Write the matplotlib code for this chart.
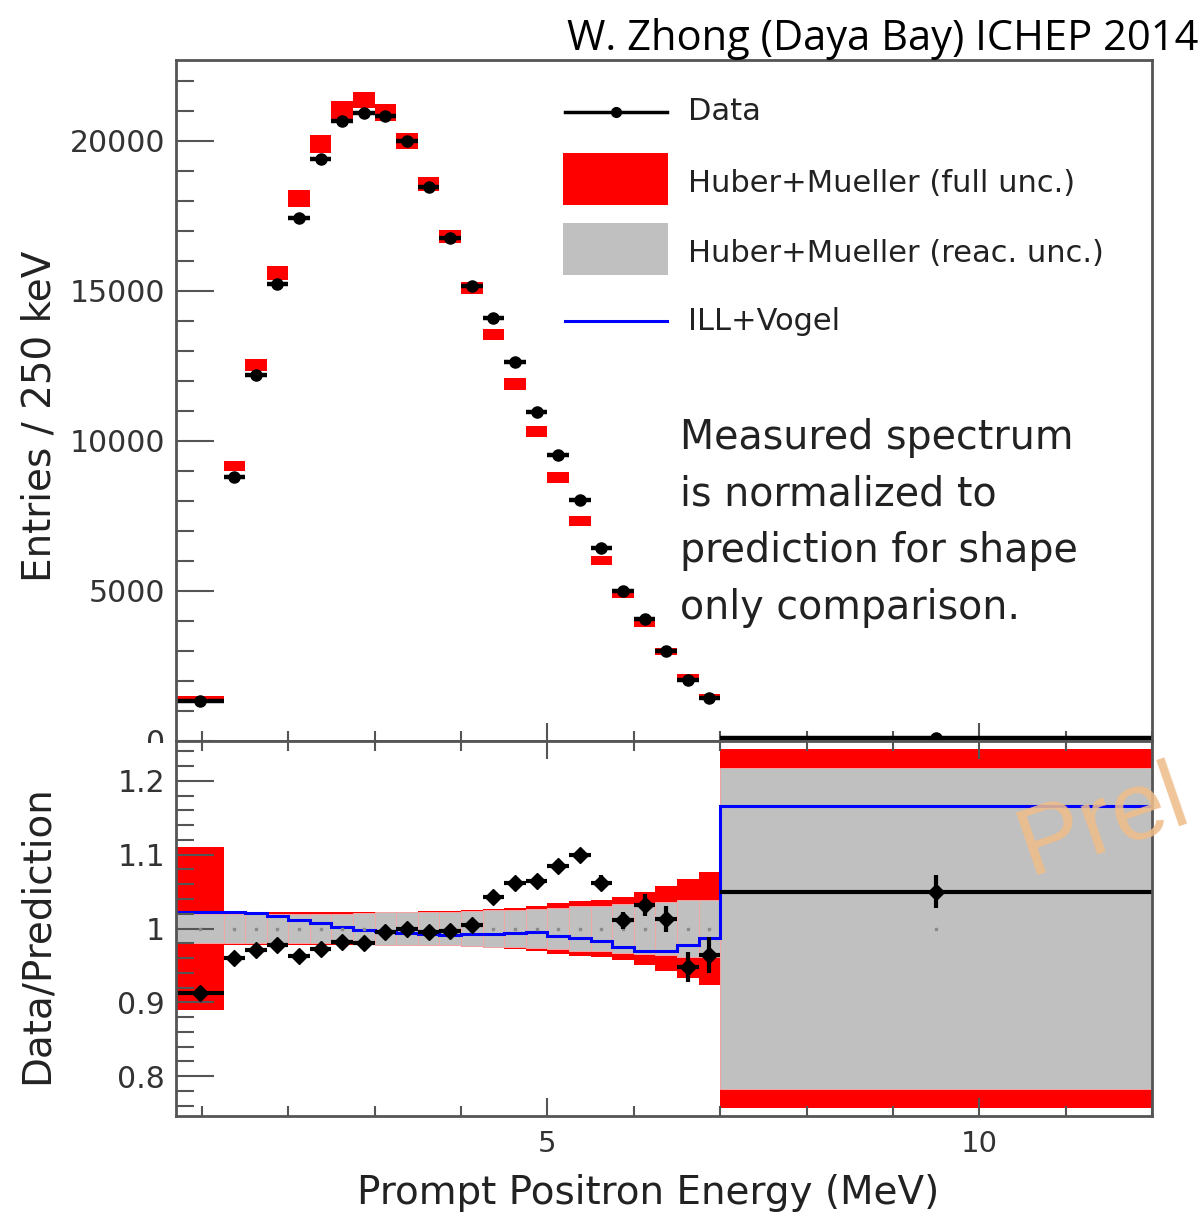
import numpy as np
import matplotlib
matplotlib.use("Agg")
import matplotlib.pyplot as plt
from matplotlib.lines import Line2D
from matplotlib.patches import Rectangle
from matplotlib.ticker import MultipleLocator, FixedLocator

# binning (MeV): one wide bin at each end, 0.25 MeV bins in between
edges = [0.7, 1.25, 1.5, 1.75, 2.0, 2.25, 2.5, 2.75, 3.0, 3.25, 3.5, 3.75, 4.0,
         4.25, 4.5, 4.75, 5.0, 5.25, 5.5, 5.75, 6.0, 6.25, 6.5, 6.75, 7.0, 12.0]

# top panel: entries / 250 keV
pred_entries = [1440, 9180, 12550, 15600, 18090, 19900, 21040, 21370, 20950, 20000,
                18560, 16810, 15110, 13550, 11910, 10320, 8790, 7320, 6030, 4920,
                3950, 2980, 2110, 1470, 90]
pred_box = [50, 167, 200, 222, 278, 295, 295, 267, 290, 262, 238, 222, 195, 195,
            195, 190, 183, 167, 150, 139, 139, 128, 133, 111, 50]
data_entries = [1336, 8810, 12190, 15230, 17450, 19390, 20670, 20920, 20830, 20000,
                18470, 16750, 15180, 14110, 12630, 10980, 9540, 8050, 6430, 4990,
                4060, 3000, 2040, 1430, 95]

# bottom panel: data / prediction
ratio = [0.912, 0.960, 0.971, 0.977, 0.963, 0.972, 0.982, 0.980, 0.995, 1.000,
         0.995, 0.997, 1.005, 1.043, 1.062, 1.065, 1.085, 1.099, 1.062, 1.011,
         1.032, 1.013, 0.948, 0.964, 1.050]
ratio_err = [0.006, 0.004, 0.004, 0.004, 0.004, 0.004, 0.004, 0.004, 0.004, 0.004,
             0.005, 0.005, 0.005, 0.006, 0.007, 0.007, 0.008, 0.009, 0.010, 0.011,
             0.015, 0.018, 0.020, 0.024, 0.022]
full_unc = [0.110, 0.023, 0.023, 0.023, 0.023, 0.023, 0.023, 0.023, 0.023, 0.023,
            0.024, 0.024, 0.025, 0.026, 0.028, 0.031, 0.034, 0.037, 0.039, 0.043,
            0.049, 0.058, 0.067, 0.076, 0.243]
reac_unc = [0.019, 0.019, 0.019, 0.019, 0.019, 0.019, 0.020, 0.021, 0.022, 0.022,
            0.023, 0.023, 0.024, 0.0245, 0.025, 0.027, 0.028, 0.030, 0.031, 0.033,
            0.035, 0.036, 0.038, 0.039, 0.218]
ill_vogel = [1.022, 1.022, 1.021, 1.017, 1.012, 1.007, 1.002, 0.998, 0.996, 0.994,
             0.992, 0.991, 0.992, 0.992, 0.994, 0.995, 0.990, 0.987, 0.983, 0.975,
             0.969, 0.969, 0.978, 0.987, 1.166]

legend_labels = ['Data', 'Huber+Mueller (full unc.)', 'Huber+Mueller (reac. unc.)', 'ILL+Vogel']

plt.rcParams['font.family'] = ['DejaVu Sans']

W, H = 1204, 1212


def fx(px):
    return px / W


def fy(py):
    return 1 - py / H


e = np.array(edges)
centers = (e[:-1] + e[1:]) / 2
widths = np.diff(e)
pred = np.array(pred_entries, dtype=float)
pbox = np.array(pred_box, dtype=float)
data = np.array(data_entries, dtype=float)
full = np.array(full_unc)
reac = np.array(reac_unc)
rerr = np.array(ratio_err)

fig = plt.figure(figsize=(W / 100, H / 100), dpi=100)
ax1 = fig.add_axes([fx(176), fy(741), fx(1152) - fx(176), fy(60) - fy(741)])
ax2 = fig.add_axes([fx(176), fy(1116), fx(1152) - fx(176), fy(741) - fy(1116)])

spine_col = '#555555'
tick_txt = '#333333'
text_col = '#222222'

# ---- top panel
ax1.bar(centers, 2 * pbox, bottom=pred - pbox, width=widths, color='red', linewidth=0)
ax1.errorbar(centers, data, xerr=widths / 2, yerr=rerr * pred, fmt='o', color='black',
             ms=8, elinewidth=3.2, capsize=0)
ax1.set_xlim(0.7, 12)
ax1.set_ylim(0, 22700)
ax1.yaxis.set_major_locator(FixedLocator([0, 5000, 10000, 15000, 20000]))
ax1.yaxis.set_minor_locator(MultipleLocator(1000))
ax1.xaxis.set_major_locator(FixedLocator([5, 10]))
ax1.xaxis.set_minor_locator(MultipleLocator(1))
ax1.tick_params(axis='y', which='major', direction='in', length=27, width=1.5,
                color=spine_col, labelsize=21.5, labelcolor=tick_txt, pad=8, right=False)
ax1.tick_params(axis='y', which='minor', direction='in', length=13, width=1.5,
                color=spine_col, right=False)
ax1.tick_params(axis='x', which='major', direction='in', length=13, width=1.5,
                color=spine_col, labelbottom=False, top=False)
ax1.tick_params(axis='x', which='minor', direction='in', length=7, width=1.5,
                color=spine_col, top=False)

# legend drawn as in the ROOT canvas
tf = fig.transFigure
fig.add_artist(Line2D([fx(565), fx(667)], [fy(112), fy(112)], transform=tf,
                      color='black', lw=2.5))
fig.add_artist(Line2D([fx(616)], [fy(112)], transform=tf, color='black',
                      marker='o', ms=7, lw=0))
fig.add_artist(Rectangle((fx(563), fy(205)), fx(668) - fx(563), fy(153) - fy(205),
                         transform=tf, facecolor='red', edgecolor='none'))
fig.add_artist(Rectangle((fx(563), fy(275)), fx(668) - fx(563), fy(223) - fy(275),
                         transform=tf, facecolor='#c0c0c0', edgecolor='none'))
fig.add_artist(Line2D([fx(565), fx(667)], [fy(321), fy(321)], transform=tf,
                      color='blue', lw=2.2))
for lab, yc in zip(legend_labels, [112, 184, 253, 322]):
    fig.text(fx(688), fy(yc), lab, fontsize=22, color=text_col, ha='left', va='center')

fig.text(fx(680), fy(523), 'Measured spectrum\nis normalized to\nprediction for shape\nonly comparison.',
         fontsize=28.5, color=text_col, ha='left', va='center', linespacing=1.53)

# ---- bottom panel
ax2.bar(centers, 2 * full, bottom=1 - full, width=widths, color='red', linewidth=0)
ax2.bar(centers, 2 * reac, bottom=1 - reac, width=widths, color='#c0c0c0',
        edgecolor='#f2a6a6', linewidth=0.7)
ax2.plot(centers, np.ones_like(centers), 's', ms=1.5, color='#8a8a8a')
ax2.stairs(ill_vogel, e, color='blue', lw=2.2, baseline=None)
ax2.errorbar(centers, ratio, xerr=widths / 2, yerr=rerr, fmt='D', color='black',
             ms=8, elinewidth=3, capsize=0)
ax2.set_xlim(0.7, 12)
ax2.set_ylim(0.746, 1.254)
ax2.yaxis.set_major_locator(FixedLocator([0.8, 0.9, 1.0, 1.1, 1.2]))
ax2.yaxis.set_minor_locator(MultipleLocator(0.02))
ax2.set_yticklabels(['0.8', '0.9', '1', '1.1', '1.2'])
ax2.xaxis.set_major_locator(FixedLocator([5, 10]))
ax2.xaxis.set_minor_locator(MultipleLocator(1))
ax2.tick_params(axis='y', which='major', direction='in', length=27, width=1.5,
                color=spine_col, labelsize=21.5, labelcolor=tick_txt, pad=8, right=False)
ax2.tick_params(axis='y', which='minor', direction='in', length=13, width=1.5,
                color=spine_col, right=False)
ax2.tick_params(axis='x', which='major', direction='in', length=13, width=1.5,
                color=spine_col, labelsize=21, labelcolor=tick_txt, pad=10, top=True)
ax2.tick_params(axis='x', which='minor', direction='in', length=7, width=1.5,
                color=spine_col, top=True)

for ax in (ax1, ax2):
    for s in ax.spines.values():
        s.set_linewidth(2)
        s.set_color(spine_col)

# the lower pad hides the bottom half of the "0" label, as in the original canvas
fig.add_artist(Rectangle((fx(100), fy(763)), fx(174) - fx(100), fy(743) - fy(763),
                         transform=tf, facecolor='white', edgecolor='none', zorder=5))

# axis titles
fig.text(fx(40), fy(416), 'Entries / 250 keV', rotation=90, fontsize=28,
         color=text_col, ha='center', va='center')
fig.text(fx(37), fy(935), 'Data/Prediction', rotation=90, fontsize=28,
         color=text_col, ha='center', va='center')
fig.text(fx(648), fy(1204), 'Prompt Positron Energy (MeV)', fontsize=28,
         color=text_col, ha='center', va='baseline')

# watermark (cut by the slide edge) and slide caption
fig.text(fx(1030), fy(875), 'Prel', rotation=19, fontsize=70,
         color='#eebd8a', alpha=0.88, family='Liberation Sans',
         ha='left', va='baseline', rotation_mode='anchor')
fig.text(fx(1198), fy(50), 'W. Zhong (Daya Bay) ICHEP 2014', fontsize=30,
         family='Open Sans', color='black', ha='right', va='baseline')

fig.savefig('out.png', dpi=100)
